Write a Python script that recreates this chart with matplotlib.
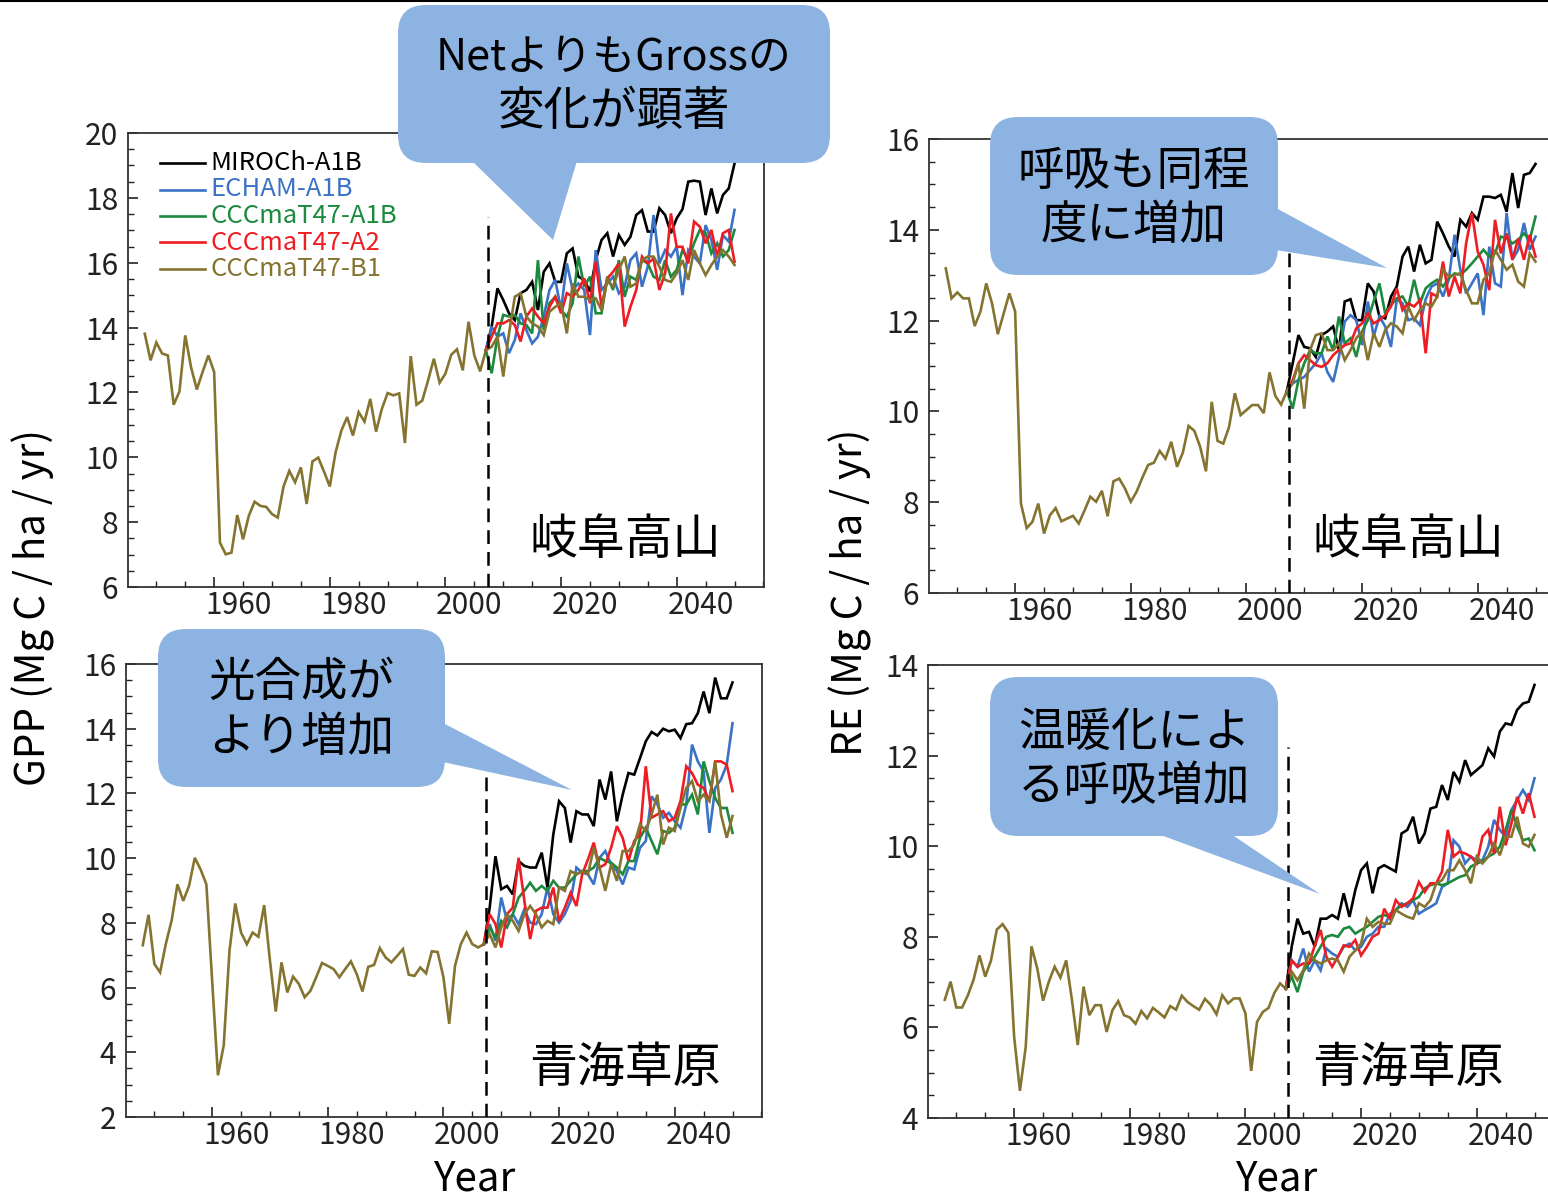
import numpy as np
import matplotlib
matplotlib.use("Agg")
import matplotlib.pyplot as plt
from matplotlib.patches import FancyBboxPatch, Polygon
from matplotlib.ticker import MultipleLocator
from matplotlib.transforms import ScaledTranslation

plt.rcParams['font.family'] = ['Noto Sans CJK JP', 'DejaVu Sans']

# ---------------------------------------------------------------- data
hist_years = np.arange(1948, 2008)
proj_years = np.arange(2007, 2051)

series_names = ["MIROCh-A1B", "ECHAM-A1B", "CCCmaT47-A1B", "CCCmaT47-A2", "CCCmaT47-B1"]
series_colors = ["#000000", "#3a72c6", "#1b8a3d", "#ee1d23", "#857430"]
hist_color = "#857430"

# Gifu Takayama, GPP
gifu_gpp_hist = [13.81, 12.99, 13.54, 13.2, 13.14, 11.62, 12.03, 13.76, 12.78, 12.09,
                 12.63, 13.14, 12.63, 7.37, 7.01, 7.06, 8.22, 7.47, 8.2, 8.63,
                 8.5, 8.47, 8.25, 8.14, 9.1, 9.58, 9.23, 9.69, 8.56, 9.87,
                 9.99, 9.56, 9.1, 10.15, 10.82, 11.24, 10.67, 11.39, 11.1, 11.8,
                 10.79, 11.49, 11.98, 11.91, 11.97, 10.44, 13.12, 11.62, 11.75, 12.37,
                 13.04, 12.3, 12.58, 13.16, 13.33, 12.68, 14.18, 13.14, 12.65, 13.3]
gifu_gpp_miroc = [13.3, 14.03, 15.21, 14.85, 14.44, 14.23, 15.06, 15.16, 15.41, 14.54, 15.72,
                  15.98, 15.41, 15.41, 16.29, 16.44, 15.57, 15.47, 15.11, 16.08, 16.70, 16.91,
                  16.19, 16.85, 16.55, 16.80, 17.47, 17.62, 16.96, 16.96, 17.68, 17.47, 16.91,
                  17.37, 17.65, 18.50, 18.53, 18.50, 17.47, 18.29, 17.52, 18.09, 18.29, 19.06]
gifu_gpp_echam = [13.3, 14.03, 13.72, 13.82, 13.21, 13.62, 14.44, 13.92, 13.51, 13.72, 14.34,
                  15.16, 15.47, 14.54, 15.98, 15.16, 15.36, 15.16, 13.77, 16.39, 15.16, 15.36,
                  15.57, 15.06, 15.26, 16.08, 16.29, 15.26, 15.88, 17.47, 15.98, 16.39, 16.19,
                  16.49, 15.00, 16.39, 16.19, 15.98, 17.16, 16.70, 15.78, 16.85, 16.65, 17.63]
gifu_gpp_a1b = [13.3, 12.59, 13.72, 14.39, 14.34, 14.39, 14.13, 14.08, 13.82, 16.08, 13.92,
                14.75, 14.95, 14.54, 14.34, 14.75, 16.19, 15.26, 15.57, 14.44, 14.44, 15.57,
                15.16, 16.08, 14.95, 15.57, 15.47, 16.08, 15.98, 15.57, 15.47, 16.08, 15.57,
                15.78, 16.39, 16.08, 16.60, 17.01, 16.91, 16.29, 16.60, 16.19, 16.39, 17.01]
gifu_gpp_a2 = [13.3, 13.72, 14.13, 14.13, 14.23, 14.08, 13.57, 14.34, 14.59, 14.34, 14.13,
               14.64, 14.95, 14.44, 15.06, 14.95, 15.16, 15.52, 14.75, 16.03, 14.64, 15.52,
               15.72, 15.98, 14.03, 14.64, 15.16, 16.19, 15.98, 16.13, 15.16, 15.67, 17.52,
               16.49, 16.49, 15.98, 17.27, 17.11, 16.60, 17.01, 16.19, 16.91, 17.01, 16.03]
gifu_gpp_b1 = [13.3, 13.41, 13.72, 12.49, 13.82, 14.95, 15.06, 14.34, 14.13, 14.03, 13.77,
               14.49, 14.64, 14.75, 13.82, 15.36, 14.95, 14.95, 14.85, 14.90, 14.54, 15.47,
               15.26, 15.78, 16.19, 15.26, 15.36, 16.08, 16.19, 16.19, 15.88, 15.47, 15.41,
               15.67, 16.08, 15.47, 16.39, 15.98, 15.62, 15.93, 16.19, 16.39, 16.19, 15.93]

# Gifu Takayama, RE
gifu_re_hist = [13.15, 12.49, 12.62, 12.49, 12.49, 11.88, 12.20, 12.82, 12.38, 11.70,
                12.15, 12.60, 12.20, 7.97, 7.43, 7.57, 7.97, 7.31, 7.71, 7.87,
                7.58, 7.64, 7.70, 7.53, 7.82, 8.12, 8.01, 8.25, 7.69, 8.46,
                8.52, 8.30, 8.01, 8.23, 8.54, 8.82, 8.87, 9.13, 8.96, 9.33,
                8.78, 9.09, 9.68, 9.57, 9.22, 8.68, 10.21, 9.35, 9.29, 9.66,
                10.40, 9.92, 10.03, 10.14, 10.14, 9.96, 10.86, 10.34, 10.15, 10.45]
gifu_re_miroc = [10.45, 11.06, 11.68, 11.42, 11.39, 11.20, 11.68, 11.76, 11.87, 11.35, 12.42,
                 12.47, 12.01, 12.01, 12.82, 12.64, 12.09, 12.05, 12.53, 12.75, 13.41, 13.63,
                 13.08, 13.67, 13.26, 13.34, 14.18, 13.92, 13.63, 13.41, 14.22, 14.07, 14.37,
                 14.22, 14.73, 14.73, 14.70, 14.77, 14.40, 15.25, 14.48, 15.21, 15.25, 15.45]
gifu_re_echam = [10.45, 10.62, 10.69, 10.76, 10.91, 11.06, 11.28, 10.87, 10.65, 11.20, 11.98,
                 12.12, 12.01, 11.46, 12.42, 11.65, 12.09, 11.87, 11.42, 12.47, 12.38, 12.01,
                 12.05, 11.90, 12.47, 12.75, 12.82, 12.53, 12.90, 13.89, 13.12, 12.60, 12.82,
                 13.04, 12.12, 13.63, 12.82, 12.75, 14.37, 13.34, 13.56, 14.15, 13.56, 13.85]
gifu_re_a1b = [10.45, 10.06, 10.69, 11.06, 11.35, 11.28, 11.28, 11.65, 11.35, 12.09, 11.50,
               11.61, 11.20, 11.76, 12.01, 12.42, 12.82, 12.16, 12.34, 12.49, 12.53, 12.31,
               12.90, 12.38, 12.71, 12.82, 12.90, 12.75, 12.93, 13.04, 13.01, 13.12, 13.26,
               13.41, 13.56, 13.41, 13.48, 13.85, 13.81, 13.70, 13.78, 13.92, 13.78, 14.29]
gifu_re_a2 = [10.45, 10.69, 11.06, 11.24, 11.13, 11.02, 10.98, 11.06, 11.24, 11.35, 11.46,
              11.50, 11.83, 11.94, 12.16, 11.94, 12.01, 12.12, 12.31, 12.71, 12.23, 12.38,
              12.31, 12.45, 11.28, 12.60, 12.53, 13.30, 12.53, 12.97, 12.60, 13.70, 14.37,
              13.52, 13.23, 12.67, 14.22, 13.48, 13.92, 13.34, 13.81, 13.34, 13.89, 13.41]
gifu_re_b1 = [10.45, 10.62, 11.06, 10.06, 11.35, 11.68, 11.72, 11.35, 11.35, 11.50, 11.13,
              11.35, 11.61, 11.76, 11.13, 11.72, 11.42, 11.79, 11.94, 11.87, 11.72, 12.31,
              12.01, 12.23, 12.38, 12.31, 12.53, 13.12, 12.97, 13.01, 13.04, 12.67, 12.38,
              12.38, 12.90, 13.04, 13.56, 13.34, 13.12, 13.23, 12.86, 12.75, 13.48, 13.30]

# Qinghai grassland, GPP
qinghai_gpp_hist = [7.31, 8.25, 6.73, 6.47, 7.36, 8.08, 9.19, 8.68, 9.14, 10.01,
                    9.65, 9.19, 6.21, 3.29, 4.21, 7.14, 8.60, 7.70, 7.34, 7.70,
                    7.57, 8.55, 6.83, 5.26, 6.78, 5.85, 6.34, 6.11, 5.70, 5.90,
                    6.32, 6.76, 6.67, 6.57, 6.32, 6.57, 6.81, 6.42, 5.88, 6.64,
                    6.70, 7.22, 6.93, 6.78, 6.98, 7.19, 6.40, 6.36, 6.62, 6.44,
                    7.12, 7.10, 6.32, 4.88, 6.67, 7.34, 7.70, 7.34, 7.24, 7.34]
qinghai_gpp_miroc = [7.34, 8.47, 10.06, 9.04, 9.14, 8.88, 9.91, 9.76, 9.71, 9.71, 10.17,
                     9.09, 10.73, 11.76, 11.55, 10.48, 11.45, 11.35, 11.35, 10.99, 12.43, 11.81,
                     12.68, 11.14, 11.96, 12.63, 12.58, 13.09, 13.61, 13.90, 13.79, 14.00, 13.92,
                     13.97, 13.71, 14.14, 14.17, 14.48, 15.15, 14.48, 15.58, 14.94, 14.94, 15.43]
qinghai_gpp_echam = [7.34, 7.96, 7.45, 8.78, 8.06, 8.27, 7.96, 8.42, 8.01, 7.96, 8.27,
                     9.09, 8.27, 8.01, 8.27, 8.68, 9.71, 9.55, 9.50, 9.19, 10.01, 10.22,
                     9.81, 9.60, 9.19, 9.71, 9.65, 10.32, 10.53, 11.91, 11.66, 11.25, 11.40,
                     11.14, 10.94, 11.66, 13.51, 12.99, 12.68, 10.78, 12.17, 12.43, 12.89, 14.17]
qinghai_gpp_a1b = [7.34, 7.86, 7.55, 8.06, 7.86, 8.27, 8.78, 8.99, 9.24, 8.99, 9.14,
                   8.99, 9.30, 9.09, 9.09, 9.30, 9.50, 9.60, 9.60, 9.71, 10.01, 9.91,
                   9.86, 9.71, 9.50, 9.91, 9.91, 10.63, 10.94, 10.53, 10.12, 10.84, 10.78,
                   10.94, 11.66, 11.66, 11.96, 11.35, 12.99, 12.38, 11.86, 11.55, 11.55, 10.78]
qinghai_gpp_a2 = [7.34, 8.27, 7.96, 7.24, 8.27, 8.47, 10.01, 8.68, 7.50, 8.37, 8.47,
                  8.47, 9.09, 8.06, 8.47, 8.93, 8.52, 9.50, 9.96, 10.48, 9.71, 9.81,
                  10.32, 10.99, 10.63, 9.91, 10.53, 10.73, 12.84, 11.25, 11.35, 11.45, 11.14,
                  11.25, 11.76, 12.84, 12.63, 12.27, 12.17, 11.76, 12.99, 12.99, 12.89, 12.07]
qinghai_gpp_b1 = [7.34, 7.65, 7.24, 7.86, 8.27, 8.06, 7.75, 8.27, 8.52, 8.27, 7.86,
                  8.06, 7.96, 9.09, 8.99, 9.60, 9.50, 9.60, 9.50, 10.32, 9.71, 8.99,
                  9.81, 9.30, 10.22, 10.22, 10.42, 11.04, 10.84, 11.35, 11.96, 10.42, 10.94,
                  10.84, 11.55, 12.17, 12.38, 11.76, 11.96, 11.76, 12.99, 11.35, 10.63, 11.30]

# Qinghai grassland, RE
qinghai_re_hist = [6.61, 7.01, 6.44, 6.44, 6.71, 7.06, 7.59, 7.12, 7.48, 8.16,
                   8.28, 8.09, 5.79, 4.60, 5.57, 7.79, 7.30, 6.59, 7.01, 7.34,
                   7.10, 7.48, 6.60, 5.61, 6.90, 6.27, 6.49, 6.49, 5.90, 6.38,
                   6.58, 6.27, 6.22, 6.08, 6.36, 6.20, 6.43, 6.33, 6.22, 6.47,
                   6.39, 6.70, 6.56, 6.47, 6.39, 6.63, 6.50, 6.29, 6.71, 6.53,
                   6.64, 6.64, 6.31, 5.04, 6.12, 6.34, 6.43, 6.76, 6.97, 6.85]
qinghai_re_miroc = [6.85, 7.78, 8.40, 8.07, 8.11, 7.78, 8.40, 8.40, 8.48, 8.40, 8.96,
                    8.44, 9.03, 9.47, 9.62, 8.96, 9.51, 9.58, 9.51, 9.44, 10.28, 10.36,
                    10.65, 10.06, 10.28, 10.83, 10.87, 11.35, 11.02, 11.64, 11.42, 11.90, 11.57,
                    11.68, 11.79, 12.16, 11.98, 12.53, 12.71, 12.68, 13.01, 13.15, 13.19, 13.56]
qinghai_re_echam = [6.85, 7.48, 7.34, 7.74, 7.23, 7.48, 7.26, 7.74, 7.63, 7.56, 7.78,
                    7.85, 7.70, 7.78, 8.00, 8.07, 8.22, 8.22, 8.51, 8.59, 8.74, 8.66,
                    8.81, 8.51, 8.59, 8.66, 8.74, 9.10, 9.18, 10.13, 9.99, 9.62, 9.77,
                    9.69, 9.69, 9.99, 10.58, 10.36, 10.21, 10.80, 11.02, 11.24, 11.02, 11.50]
qinghai_re_a1b = [6.85, 7.12, 6.78, 7.23, 7.41, 7.56, 7.78, 8.00, 8.04, 8.00, 8.18,
                  8.22, 8.07, 8.15, 8.22, 8.33, 8.44, 8.48, 8.44, 8.59, 8.70, 8.74,
                  8.81, 8.88, 9.07, 9.14, 9.18, 9.14, 9.18, 9.25, 9.32, 9.36, 9.55,
                  9.62, 9.66, 9.77, 9.84, 9.99, 10.36, 10.80, 10.43, 10.13, 10.17, 9.91]
qinghai_re_a2 = [6.85, 7.48, 7.34, 7.41, 7.41, 7.81, 8.15, 7.56, 7.34, 7.56, 7.81,
                 7.78, 7.93, 7.59, 7.78, 8.00, 8.07, 8.62, 8.40, 8.81, 8.66, 8.74,
                 8.85, 9.21, 8.99, 9.18, 9.18, 9.44, 10.36, 9.77, 9.88, 9.84, 9.77,
                 9.62, 10.21, 10.36, 9.84, 10.87, 10.02, 10.50, 11.09, 10.72, 11.17, 10.65]
qinghai_re_b1 = [6.85, 7.23, 7.04, 7.26, 7.63, 7.48, 7.41, 7.48, 7.52, 7.48, 7.23,
                 7.56, 7.70, 7.85, 8.40, 8.22, 8.33, 8.29, 8.29, 8.59, 8.51, 8.44,
                 8.40, 8.74, 8.66, 8.81, 9.18, 9.25, 9.47, 9.47, 9.69, 9.47, 9.18,
                 9.77, 9.62, 9.77, 10.06, 9.80, 10.21, 10.21, 10.65, 10.06, 9.99, 10.25]

x_ticks = [1960, 1980, 2000, 2020, 2040]
scenario_start = 2007.3

# ---------------------------------------------------------------- figure
W, H = 1548, 1197
fig = plt.figure(figsize=(W / 100, H / 100), dpi=100)
fig.patch.set_facecolor("white")

LW = 1.9


def add_axes_px(left, top, width, height):
    return fig.add_axes([left / W, 1 - (top + height) / H, width / W, height / H])


panels = [
    dict(rect=(128, 133, 636, 454), ylim=(6, 20), yticks=range(6, 21, 2),
         hist=gifu_gpp_hist,
         proj=[gifu_gpp_miroc, gifu_gpp_echam, gifu_gpp_a1b, gifu_gpp_a2, gifu_gpp_b1],
         dash_top=17.4, site="岐阜高山", site_xy=(0.781, 0.104)),
    dict(rect=(929, 139, 636, 454), ylim=(6, 16), yticks=range(6, 17, 2),
         hist=gifu_re_hist,
         proj=[gifu_re_miroc, gifu_re_echam, gifu_re_a1b, gifu_re_a2, gifu_re_b1],
         dash_top=13.5, site="岐阜高山", site_xy=(0.753, 0.116)),
    dict(rect=(126, 664, 636, 453), ylim=(2, 16), yticks=range(2, 17, 2),
         hist=qinghai_gpp_hist,
         proj=[qinghai_gpp_miroc, qinghai_gpp_echam, qinghai_gpp_a1b, qinghai_gpp_a2, qinghai_gpp_b1],
         dash_top=12.7, site="青海草原", site_xy=(0.785, 0.108)),
    dict(rect=(928, 665, 636, 453), ylim=(4, 14), yticks=range(4, 15, 2),
         hist=qinghai_re_hist,
         proj=[qinghai_re_miroc, qinghai_re_echam, qinghai_re_a1b, qinghai_re_a2, qinghai_re_b1],
         dash_top=12.2, site="青海草原", site_xy=(0.755, 0.110)),
]

label_shift = ScaledTranslation(24 / 100, 0, fig.dpi_scale_trans)
axes = []
for p in panels:
    ax = add_axes_px(*p["rect"])
    axes.append(ax)
    ax.set_xlim(1945.1, 2055.1)
    ax.set_ylim(*p["ylim"])

    ax.plot(hist_years, p["hist"], color=hist_color, lw=LW, solid_joinstyle="miter", zorder=3)
    for vals, col in zip(p["proj"], series_colors):
        ax.plot(proj_years, vals, color=col, lw=LW, solid_joinstyle="miter", zorder=3)

    ax.plot([scenario_start, scenario_start], [p["ylim"][0], p["dash_top"]],
            color="black", lw=1.8, linestyle=(0, (5.5, 3.2)), zorder=4)

    ax.set_xticks(x_ticks)
    ax.set_xticklabels([str(t) for t in x_ticks])
    ax.xaxis.set_minor_locator(MultipleLocator(5))
    ax.set_yticks(list(p["yticks"]))
    ax.set_yticklabels([str(t) for t in p["yticks"]])
    ax.yaxis.set_minor_locator(MultipleLocator(0.5))
    ax.tick_params(which="both", direction="in", top=False, right=False,
                   labelsize=21.5, colors="#222222")
    ax.tick_params(which="major", length=7, width=1.2)
    ax.tick_params(which="minor", length=4, width=1.0)
    ax.tick_params(axis="y", pad=7)
    ax.tick_params(axis="x", pad=2)
    for lab in ax.get_xticklabels():
        lab.set_transform(lab.get_transform() + label_shift)
    for s in ax.spines.values():
        s.set_linewidth(1.3)
        s.set_color("#333333")

    ax.text(p["site_xy"][0], p["site_xy"][1], p["site"], transform=ax.transAxes,
            ha="center", va="center", fontsize=34.5, color="black", zorder=5)

# legend in the upper-left panel
ax0 = axes[0]
for i, (name, col) in enumerate(zip(series_names, series_colors)):
    y = 1 - (30 + 26.5 * i) / 454
    ax0.plot([32 / 636, 77 / 636], [y, y], transform=ax0.transAxes, color=col, lw=LW)
    ax0.text(82 / 636, y, name, transform=ax0.transAxes, color=col,
             fontsize=18.5, ha="left", va="center")

# axis titles
fig.text(33 / W, 1 - 607 / H, "GPP (Mg C / ha / yr)", rotation=90,
         ha="center", va="center", fontsize=29)
fig.text(850 / W, 1 - 592 / H, "RE (Mg C / ha / yr)", rotation=90,
         ha="center", va="center", fontsize=29)
fig.text(475 / W, 1 - 1179 / H, "Year", ha="center", va="center", fontsize=29)
fig.text(1277 / W, 1 - 1179 / H, "Year", ha="center", va="center", fontsize=29)

# ---------------------------------------------------------------- callouts
ov = fig.add_axes([0, 0, 1, 1], zorder=10)
ov.set_xlim(0, W)
ov.set_ylim(H, 0)
ov.axis("off")
ov.patch.set_alpha(0)

ov.plot([0, W], [1, 1], color="black", lw=1.5)

callout_fill = "#8db3e2"
callouts = [
    dict(box=(398, 5, 830, 163), tail=[(472, 161), (553, 240), (577, 161)],
         lines=["NetよりもGrossの", "変化が顕著"], ys=[58, 112], sizes=[31, 33.5]),
    dict(box=(990, 117, 1278, 275), tail=[(1276, 208), (1387, 268), (1276, 250)],
         lines=["呼吸も同程", "度に増加"], ys=[172, 226], sizes=[33.5, 33.5]),
    dict(box=(158, 629, 445, 787), tail=[(443, 723), (572, 790), (443, 762)],
         lines=["光合成が", "より増加"], ys=[683, 738], sizes=[33.5, 33.5]),
    dict(box=(990, 677, 1278, 836), tail=[(1158, 834), (1320, 894), (1231, 834)],
         lines=["温暖化によ", "る呼吸増加"], ys=[733, 787], sizes=[33.5, 33.5]),
]
for c in callouts:
    x0, y0, x1, y1 = c["box"]
    ov.add_patch(FancyBboxPatch((x0, y0), x1 - x0, y1 - y0,
                                boxstyle="round,pad=0,rounding_size=28",
                                facecolor=callout_fill, edgecolor="none"))
    ov.add_patch(Polygon(c["tail"], closed=True, facecolor=callout_fill, edgecolor="none"))
    cx = (x0 + x1) / 2
    for txt, ty, fs in zip(c["lines"], c["ys"], c["sizes"]):
        ov.text(cx, ty, txt, ha="center", va="center", fontsize=fs, color="black")

fig.savefig("out.png", dpi=100)
